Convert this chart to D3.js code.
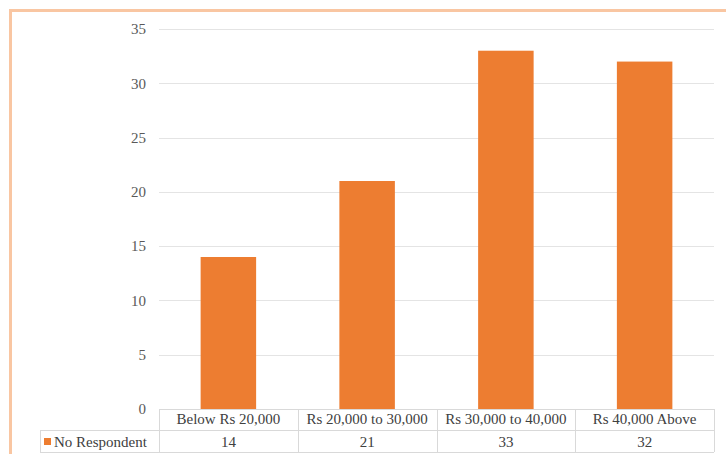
<!DOCTYPE html>
<html><head><meta charset="utf-8">
<script src="https://cdn.jsdelivr.net/npm/d3@7"></script>
<style>body{margin:0;background:#fff}svg{display:block}svg text{font-family:"Liberation Serif","DejaVu Serif",serif}</style>
</head><body><div id="chart"></div>
<script>
const categories = ["Below Rs 20,000", "Rs 20,000 to 30,000", "Rs 30,000 to 40,000", "Rs 40,000 Above"];
const values = [14, 21, 33, 32];
const seriesName = "No Respondent";
const yTicks = [0, 5, 10, 15, 20, 25, 30, 35];

(function () {
const W = 726, H = 454;
const svg = d3.select("#chart").append("svg").attr("width", W).attr("height", H);

// outer border
svg.append("path").attr("d", `M10.5,${H + 2} L10.5,10.5 L${W + 2},10.5`)
  .attr("fill", "none").attr("stroke", "#f9c6a2").attr("stroke-width", 3);

const pL = 159, pR = 714, pT = 29, pB = 409;
const x = d3.scaleBand().domain(categories).range([pL, pR]).paddingInner(0).paddingOuter(0);
const y = d3.scaleLinear().domain([0, 35]).range([pB, pT]);

// gridlines
svg.append("g").selectAll("line").data(yTicks.filter(d => d > 0)).join("line")
  .attr("x1", pL).attr("x2", pR)
  .attr("y1", d => Math.round(y(d)) + 0.5).attr("y2", d => Math.round(y(d)) + 0.5)
  .attr("stroke", "#e4e4e4").attr("stroke-width", 1);

// y axis labels
const yAxis = d3.axisLeft(y).tickValues(yTicks).tickSize(0).tickPadding(0);
const ga = svg.append("g").attr("transform", `translate(${pL - 13},0)`).call(yAxis);
ga.select(".domain").remove();
ga.attr("font-family", null);
ga.selectAll("text").attr("font-size", 15).attr("fill", "#595959");

// bars
const bw = x.bandwidth() * 0.4;
svg.append("g").selectAll("rect").data(values).join("rect")
  .attr("x", (d, i) => x(categories[i]) + (x.bandwidth() - bw) / 2)
  .attr("width", bw)
  .attr("y", d => y(d))
  .attr("height", d => y(0) - y(d))
  .attr("fill", "#ed7d31");

// data table
const row1 = pB, row2 = 430, row3 = 452, legLeft = 40;
const tbl = svg.append("g").attr("stroke", "#d9d9d9").attr("stroke-width", 1).attr("fill", "none");
const hl = (x1, x2, yy) => tbl.append("line").attr("x1", x1).attr("x2", x2).attr("y1", yy + 0.5).attr("y2", yy + 0.5);
const vl = (xx, y1, y2) => tbl.append("line").attr("x1", xx + 0.5).attr("x2", xx + 0.5).attr("y1", y1).attr("y2", y2);
hl(pL, pR, row1);
hl(legLeft, pR, row2);
hl(legLeft, pR, row3);
vl(legLeft, row2, row3);
categories.forEach(c => vl(Math.round(x(c)), row1, row3));
vl(pR, row1, row3);

const tg = svg.append("g").attr("font-size", 15).attr("fill", "#404040").attr("text-anchor", "middle");
tg.selectAll("text.cat").data(categories).join("text").attr("class", "cat")
  .attr("x", c => x(c) + x.bandwidth() / 2).attr("y", 424).text(c => c);
tg.selectAll("text.val").data(values).join("text").attr("class", "val")
  .attr("x", (d, i) => x(categories[i]) + x.bandwidth() / 2).attr("y", 447).text(d => d);

svg.append("rect").attr("x", 44).attr("y", (row2 + row3) / 2 - 3).attr("width", 7).attr("height", 7).attr("fill", "#ed7d31");
svg.append("text").attr("x", 54).attr("y", 447).attr("font-size", 15)
  .attr("fill", "#404040").text(seriesName);
})();
</script></body></html>
